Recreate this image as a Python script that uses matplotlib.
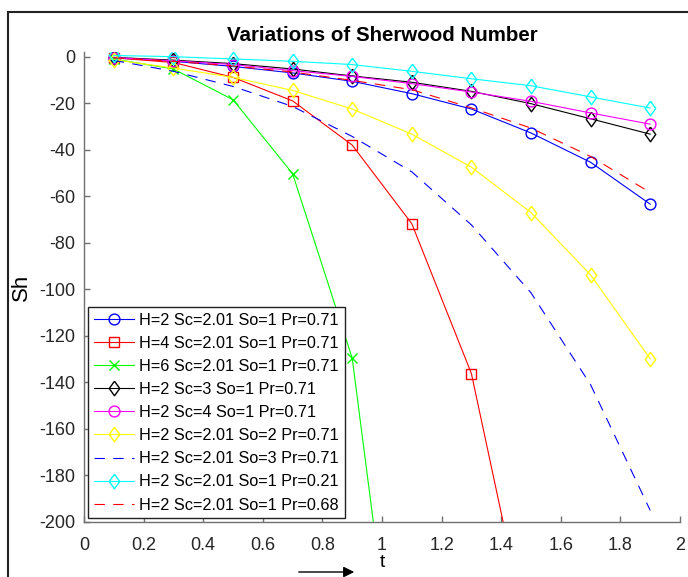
import matplotlib
matplotlib.use("Agg")
import matplotlib.pyplot as plt
from matplotlib.patches import Rectangle

plt.rcParams['font.family'] = ['Liberation Sans', 'DejaVu Sans']
plt.rcParams['lines.scale_dashes'] = False
plt.rcParams['axes.unicode_minus'] = False

t = [0.1, 0.3, 0.5, 0.7, 0.9, 1.1, 1.3, 1.5, 1.7, 1.9]

sh_h2 = [-0.5, -2.0, -4.2, -7.0, -10.6, -15.9, -22.5, -32.8, -45.4, -63.4]
sh_h4 = [-0.5, -2.5, -8.9, -19.0, -38.0, -71.8, -136.2, -256.0]
sh_h6 = [-1.0, -5.3, -18.5, -50.3, -129.6, -328.0]
sh_sc3 = [-0.3, -1.5, -3.0, -5.3, -8.3, -11.0, -14.9, -20.2, -26.7, -33.3]
sh_sc4 = [-0.4, -1.8, -3.4, -6.0, -8.5, -11.6, -15.2, -19.2, -24.2, -29.0]
sh_so2 = [-1.3, -4.9, -8.9, -14.5, -22.5, -33.3, -47.5, -67.0, -93.8, -129.9]
sh_so3 = [-1.6, -6.3, -12.8, -21.4, -34.3, -49.5, -72.3, -101.5, -141.0, -195.0]
sh_pr021 = [0.5, 0.0, -1.0, -2.0, -3.4, -6.3, -9.5, -12.5, -17.3, -22.1]
sh_pr068 = [-0.5, -2.0, -4.0, -6.6, -10.2, -14.2, -22.0, -30.7, -42.9, -58.4]

labels = ["H=2 Sc=2.01 So=1 Pr=0.71", "H=4 Sc=2.01 So=1 Pr=0.71",
          "H=6 Sc=2.01 So=1 Pr=0.71", "H=2 Sc=3 So=1 Pr=0.71",
          "H=2 Sc=4 So=1 Pr=0.71", "H=2 Sc=2.01 So=2 Pr=0.71",
          "H=2 Sc=2.01 So=3 Pr=0.71", "H=2 Sc=2.01 So=1 Pr=0.21",
          "H=2 Sc=2.01 So=1 Pr=0.68"]

# tall diamond like matlab's
diam = [(0, 1), (0.72, 0), (0, -1), (-0.72, 0), (0, 1)]

fig = plt.figure(figsize=(6.88, 5.77), dpi=100)
ax = fig.add_axes([84/688, 55/577, 596/688, 470/577])

lw = 0.8
ax.plot(t, sh_h2, color=(0, 0, 1), marker='o', ms=7.8, mfc='none', lw=lw, label=labels[0])
ax.plot(t[:len(sh_h4)], sh_h4, color=(1, 0, 0), marker='s', ms=7, mfc='none', lw=lw, label=labels[1])
ax.plot(t[:len(sh_h6)], sh_h6, color=(0, 1, 0), marker='x', ms=7, mfc='none', lw=lw, label=labels[2])
ax.plot(t, sh_sc3, color='k', marker=diam, ms=10.5, mfc='none', lw=lw, label=labels[3])
ax.plot(t, sh_sc4, color=(1, 0, 1), marker='o', ms=7.8, mfc='none', lw=lw, label=labels[4])
ax.plot(t, sh_so2, color=(1, 1, 0), marker=diam, ms=10.5, mfc='none', lw=lw, label=labels[5])
ax.plot(t, sh_so3, color=(0, 0, 1), ls='--', dashes=(7.5, 6), lw=lw, label=labels[6])
ax.plot(t, sh_pr021, color=(0, 1, 1), marker=diam, ms=10.5, mfc='none', lw=lw, label=labels[7])
ax.plot(t, sh_pr068, color=(1, 0, 0), ls='--', dashes=(7.5, 6), lw=lw, label=labels[8])

ax.set_xlim(0, 2)
ax.set_ylim(-200, 2)
ax.set_xticks([0, 0.2, 0.4, 0.6, 0.8, 1, 1.2, 1.4, 1.6, 1.8, 2])
ax.set_xticklabels(['0', '0.2', '0.4', '0.6', '0.8', '1', '1.2', '1.4', '1.6', '1.8', '2'])
ax.set_yticks(range(-200, 1, 20))

for s in ['top', 'right']:
    ax.spines[s].set_visible(False)
for s in ['left', 'bottom']:
    ax.spines[s].set_color('#707070')
    ax.spines[s].set_linewidth(1.0)
ax.tick_params(direction='in', length=4.5, width=1.0, color='#707070',
               labelsize=13, labelcolor='#262626')
ax.tick_params(axis='x', pad=11)
ax.tick_params(axis='y', pad=6)

ax.set_title("Variations of Sherwood Number", fontsize=14.8, fontweight='bold', pad=8)
ax.set_ylabel("Sh", fontsize=16)
ax.yaxis.set_label_coords(-0.087, 0.5)
ax.set_xlabel("t", fontsize=14)
ax.xaxis.set_label_coords(0.5, -0.068)

leg = ax.legend(loc='lower left', bbox_to_anchor=(0.007, 0.008), borderaxespad=0,
                fontsize=11.7, fancybox=False, framealpha=1, edgecolor='#222222',
                handlelength=2.5, handletextpad=0.3, labelspacing=0.5,
                borderpad=0.35)
leg.get_frame().set_linewidth(1.0)

# arrow under the t axis
ax.annotate("", xy=(357, 5), xytext=(296, 5), xycoords='figure pixels',
            textcoords='figure pixels',
            arrowprops=dict(arrowstyle='-|>', color='black', lw=1.0, mutation_scale=16))

# outer frame
fig.add_artist(Rectangle((8/688, -0.1), 1.2, (577-12)/577 + 0.1,
                         transform=fig.transFigure, fill=False,
                         edgecolor='#222222', lw=1.5))

fig.savefig("out.png", dpi=100)
